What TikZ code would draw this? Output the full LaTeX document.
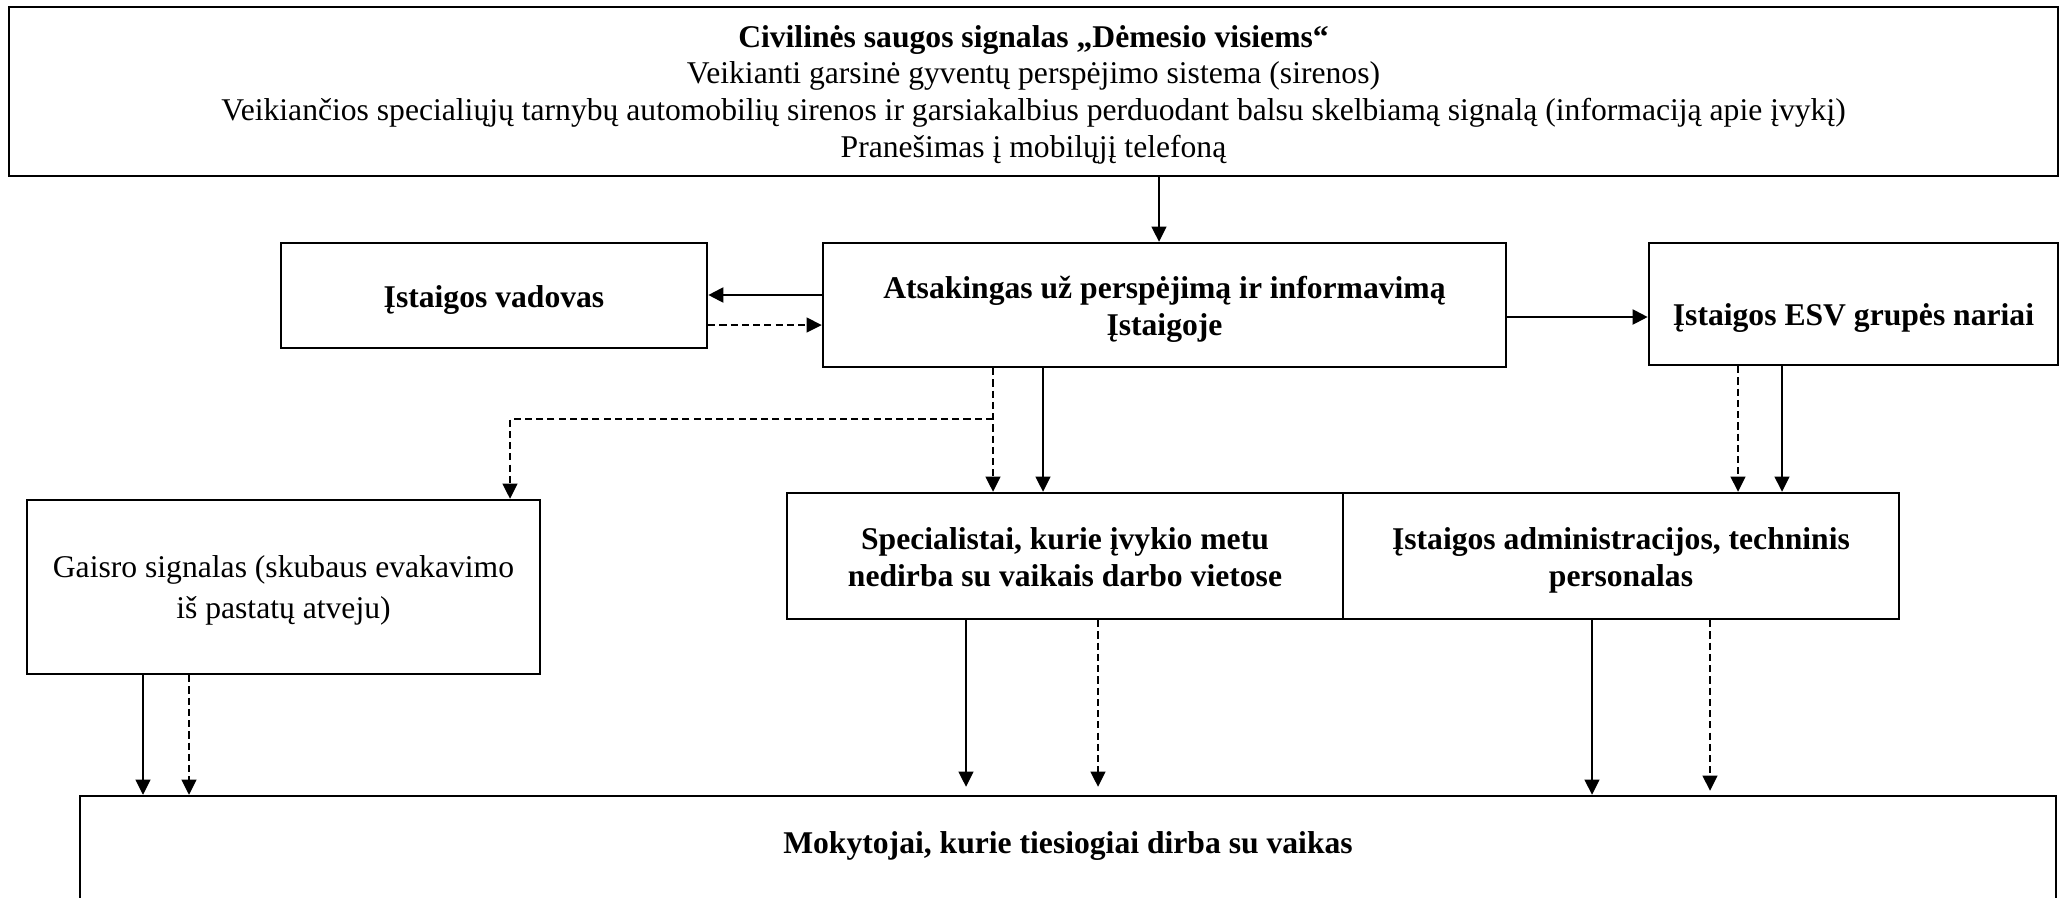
\documentclass[tikz,border=0pt]{standalone}
\usepackage{fontspec}
\setmainfont{Liberation Serif}
\usepackage{tikz}
\usetikzlibrary{arrows.meta,positioning,calc}
\tikzset{
  >={Triangle[length=4.3pt,width=4.2pt]},
  box/.style={rectangle, draw, line width=0.7pt, align=center, inner sep=0pt, font=\fontsize{9}{10.5}\selectfont},
  bbox/.style={box, font=\fontsize{9}{10.5}\selectfont\bfseries},
  tr/.style={->, line width=0.4pt},
  ttr/.style={->, line width=0.8pt},
  dtr/.style={->, line width=0.4pt, dash pattern=on 2pt off 1.2pt}
}
\begin{document}
\begin{tikzpicture}
    \useasboundingbox (0,0) rectangle (20.6,-8.97);

    % Signal source
    \node[box, minimum width=20.49cm, minimum height=1.69cm, font=\fontsize{9}{10.45}\selectfont] (sig) at (10.335,-0.915)
      {\rule{0pt}{9.3pt}\textbf{Civilinės saugos signalas „Dėmesio visiems“}\\Veikianti garsinė gyventų perspėjimo sistema (sirenos)\\Veikiančios specialiųjų tarnybų automobilių sirenos ir garsiakalbius perduodant balsu skelbiamą signalą (informaciją apie įvykį)\\Pranešimas į mobilųjį telefoną\strut};

    % Second row
    \node[bbox, minimum width=4.26cm, minimum height=1.05cm, text height=0.64cm, text depth=0.41cm] (vad) at (4.94,-2.955) {Įstaigos vadovas};
    \node[bbox, minimum width=6.83cm, minimum height=1.24cm] (atsak) at (11.645,-3.05) {\rule{0pt}{10.2pt}Atsakingas už perspėjimą ir informavimą\\Įstaigoje\strut};
    \node[bbox, minimum width=4.09cm, minimum height=1.22cm, text height=0.82cm, text depth=0.40cm] (esv) at (18.535,-3.04) {Įstaigos ESV grupės nariai};

    % Third row
    \node[box, minimum width=5.13cm, minimum height=1.74cm, font=\fontsize{9}{11.5}\selectfont] (gaisro) at (2.835,-5.87) {\rule{0pt}{9.8pt}Gaisro signalas (skubaus evakavimo\\iš pastatų atveju)\strut};
    \node[bbox, minimum width=5.56cm, minimum height=1.26cm] (spec) at (10.65,-5.56) {\rule{0pt}{10.2pt}Specialistai, kurie įvykio metu\\nedirba su vaikais darbo vietose\strut};
    \node[bbox, minimum width=5.56cm, minimum height=1.26cm] (admin) at (16.21,-5.56) {\rule{0pt}{10.2pt}Įstaigos administracijos, techninis\\personalas\strut};

    % Bottom
    \node[bbox, minimum width=19.76cm, minimum height=1.08cm, text height=0.57cm, text depth=0.51cm] (mok) at (10.68,-8.50) {Mokytojai, kurie tiesiogiai dirba su vaikas};

    % Connectors
    \draw[tr] (sig.south -| 11.59,0) -- (atsak.north -| 11.59,0);
    \draw[ttr] (atsak.west |- 0,-2.95) -- (vad.east |- 0,-2.95);
    \draw[dtr] (vad.east |- 0,-3.25) -- (atsak.west |- 0,-3.25);
    \draw[ttr] (atsak.east |- 0,-3.17) -- (esv.west |- 0,-3.17);

    \coordinate (brk) at (9.93,-4.19);
    \draw[dtr] (atsak.south -| brk) -- (spec.north -| brk);
    \draw[dtr] (brk) -| (gaisro.north -| 5.10,0);
    \draw[tr] (atsak.south -| 10.43,0) -- (spec.north -| 10.43,0);
    \draw[dtr] (esv.south -| 17.38,0) -- (admin.north -| 17.38,0);
    \draw[tr] (esv.south -| 17.82,0) -- (admin.north -| 17.82,0);

    \draw[tr] (gaisro.south -| 1.43,0) -- (mok.north -| 1.43,0);
    \draw[dtr] (gaisro.south -| 1.89,0) -- (mok.north -| 1.89,0);
    \draw[tr, shorten >=0.08cm] (spec.south -| 9.66,0) -- (mok.north -| 9.66,0);
    \draw[dtr, shorten >=0.08cm] (spec.south -| 10.98,0) -- (mok.north -| 10.98,0);
    \draw[tr] (admin.south -| 15.92,0) -- (mok.north -| 15.92,0);
    \draw[dtr, shorten >=0.04cm] (admin.south -| 17.10,0) -- (mok.north -| 17.10,0);
\end{tikzpicture}
\end{document}
